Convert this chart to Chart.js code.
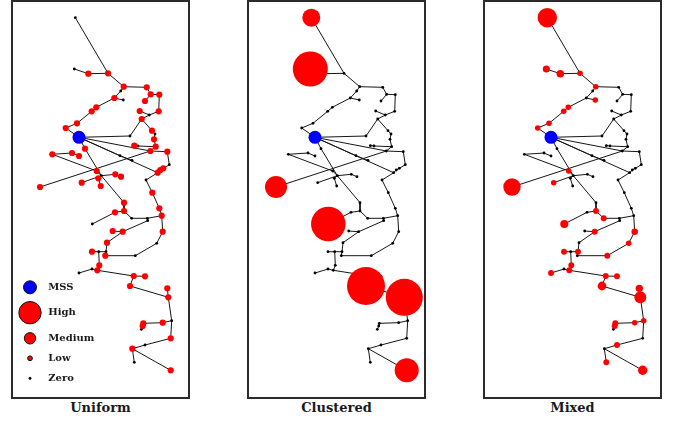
<!DOCTYPE html>
<html>
<head>
<meta charset="utf-8">
<script src="https://cdn.jsdelivr.net/npm/chart.js@4.4.1/dist/chart.umd.min.js"></script>
<style>
  html, body { margin: 0; padding: 0; background: #fff; }
  body { width: 673px; height: 422px; position: relative; overflow: hidden; }
  .frame { position: absolute; top: 0; width: 179px; height: 399px; border: 2px solid #2b2b2b; box-sizing: border-box; }
  .frame canvas { position: absolute; left: 0; top: 0; }
  .title { position: absolute; top: 399px; width: 179px; text-align: center;
           font: bold 13px "DejaVu Serif", serif; color: #1a1a1a; line-height: 18px; }
</style>
</head>
<body>
<div class="frame" style="left:11px"><canvas id="c0" width="175" height="395"></canvas></div>
<div class="frame" style="left:247px"><canvas id="c1" width="175" height="395"></canvas></div>
<div class="frame" style="left:483px"><canvas id="c2" width="175" height="395"></canvas></div>
<div class="title" style="left:11px" id="t0"></div>
<div class="title" style="left:247px" id="t1"></div>
<div class="title" style="left:483px" id="t2"></div>
<script>
// Feeder layout: node coordinates (shared by all three scenarios)
const nodeX = [75.3,108,88.3,74.3,123.7,146.7,120.7,114.3,123.3,96.3,
  91.7,77,65.7,79,150.7,159.3,145,158.7,149.3,139.7,
  141.7,130,152,155,154,155.7,134.3,138,150.3,167.3,
  169.3,163.3,160.3,157.7,146,152.3,159.3,161.7,85,52.3,
  72,79,120,132,40,96.7,101.3,115.3,121,98.3,
  81.7,100.7,124,124,115,131.7,147.3,147.7,92.3,162.7,
  122.7,112.7,156.7,107,92,98.7,106,105.3,135.3,99.3,
  97.3,92,79,133.7,145,130,167.3,168.3,171.7,162.7,
  143.3,142.7,141.3,170.7,145,132.3,134.3,170.7];
const nodeY = [17.7,73.3,73.7,69,86.7,87.3,91,98,100,107.3,
  111.3,123.3,128,137.3,94.3,94.7,101,111.3,115,111,
  119,136,130.7,134,139.3,146.7,145.7,146,151,151.7,
  164.7,168.3,170,172.7,180,192.7,208.3,215.7,148.7,154.3,
  153,156,155.7,160.3,187,171,175.7,174.3,176.7,178.3,
  182.7,186,202.7,211,212.3,218.3,218.3,220.7,224,231.7,
  231.7,231,243.3,242.7,251.7,251.7,251.7,255.7,255.7,265.3,
  270.3,269,273,276,276.3,286,288.3,297.3,320.7,322.7,
  323.3,326,329.3,338.3,345,348.7,362.3,370.3];
const mssIndex = 13;

// Lines (from node, to node)
const edgesFrom = [0,3,2,1,4,4,6,7,7,9,10,11,12,
  5,14,14,15,17,19,18,13,21,20,22,23,24,26,27,
  25,28,13,44,29,30,31,32,13,33,34,35,36,
  13,42,
  13,38,46,39,45,39,40,46,47,46,46,49,
  52,53,54,53,55,56,56,37,59,62,68,67,66,63,60,60,
  64,65,65,69,70,71,70,73,73,75,77,77,78,79,80,81,78,83,84,85,85];
const edgesTo = [1,2,1,4,5,6,7,8,9,10,11,12,13,
  14,15,16,17,18,18,20,21,20,22,23,24,25,27,25,
  28,29,28,28,30,31,32,33,33,34,35,36,37,
  42,43,
  38,46,52,45,46,40,41,47,48,50,49,51,
  53,54,58,55,56,57,37,59,62,68,67,66,63,60,57,61,
  65,66,69,70,71,72,73,74,75,77,76,78,79,80,81,82,83,84,85,86,87];

// Load per node for each scenario (0 = no load)
const loadUniform = [0,1,1,0,1,1,0,1,0,1,
  1,1,1,0,1,1,1,1,0,1,
  1,0,1,0,1,1,1,0,1,1,
  0,1,1,1,0,1,1,1,1,1,
  1,1,0,0,1,1,0,1,1,1,
  1,1,1,1,1,0,0,0,0,1,
  1,1,0,1,1,0,0,1,0,1,
  1,0,0,1,1,1,1,1,0,1,
  1,1,0,1,0,1,0,1];
const loadClustered = [8.4,0,0,31.9,0,0,0,0,0,0,
  0,0,0,0,0,0,0,0,0,0,
  0,0,0,0,0,0,0,0,0,0,
  0,0,0,0,0,0,0,0,0,0,
  0,0,0,0,12.6,0,0,0,0,0,
  0,0,0,0,0,0,0,0,31.1,0,
  0,0,0,0,0,0,0,0,0,0,
  0,0,0,0,0,37.6,0,35.6,0,0,
  0,0,0,0,0,0,0,15];
const loadMixed = [9.8,0.8,1.5,1.3,0.8,0,0,0,0.8,0.8,
  0.8,0.8,0.8,0,0,0,0,0,0,0,
  0,0,0,0,0,0,0,0,0,0,
  0,0,0,0,0,0,0,0,0,0,
  0,0,0,0,7.9,0.8,0,0,0,0,
  0.8,0,0,0.9,0,0.9,0,0,1.7,1.1,
  0.9,0,0.8,0,0.9,0,0.9,0,0.9,0.9,
  0.9,0,0.9,0.9,0.9,2.0,1.4,3.7,0.8,0.8,
  0.9,0.9,0,0,0.9,0,0.9,2.3];

const panelTitles = ["Uniform", "Clustered", "Mixed"];
const legendLabels = ["MSS", "High", "Medium", "Low", "Zero"];

function radiusOf(load) { return load > 0 ? 3.1 * Math.sqrt(load) : 1.4; }

const legendPlugin = {
  id: 'sizeLegend',
  afterDatasetsDraw(chart) {
    const ctx = chart.ctx;
    const items = [
      { r: 6.5, fill: '#0000ff', y: 285.3 },
      { r: 11.2, fill: '#ff0000', y: 310.7 },
      { r: 5.7, fill: '#ff0000', y: 336.3 },
      { r: 2.4, fill: '#ff0000', y: 356.3 },
      { r: 1.1, fill: '#000000', y: 376.3 }
    ];
    ctx.save();
    items.forEach((it, i) => {
      ctx.beginPath();
      ctx.arc(17, it.y, it.r, 0, Math.PI * 2);
      ctx.fillStyle = it.fill;
      ctx.fill();
      ctx.lineWidth = 1;
      ctx.strokeStyle = '#111';
      ctx.stroke();
      ctx.fillStyle = '#1a1a1a';
      ctx.font = 'bold 10px "DejaVu Serif", serif';
      ctx.textBaseline = 'middle';
      ctx.fillText(legendLabels[i], 35.3, it.y);
    });
    ctx.restore();
  }
};

function makeChart(id, load, withLegend) {
  const edgePts = [];
  edgesFrom.forEach((a, i) => {
    const b = edgesTo[i];
    edgePts.push({ x: nodeX[a], y: nodeY[a] }, { x: nodeX[b], y: nodeY[b] }, { x: nodeX[b], y: null });
  });
  const loadPts = [], loadR = [], zeroPts = [];
  nodeX.forEach((x, i) => {
    if (i === mssIndex) return;
    if (load[i] > 0) { loadPts.push({ x: x, y: nodeY[i] }); loadR.push(radiusOf(load[i])); }
    else zeroPts.push({ x: x, y: nodeY[i] });
  });
  return new Chart(document.getElementById(id), {
    type: 'scatter',
    data: {
      datasets: [
        { label: 'MSS', data: [{ x: nodeX[mssIndex], y: nodeY[mssIndex] }], pointRadius: 6.5,
          backgroundColor: '#0000ff', borderWidth: 0, clip: false },
        { label: 'Load', data: loadPts, pointRadius: loadR, backgroundColor: '#ff0000', borderWidth: 0, clip: false },
        { label: 'Zero', data: zeroPts, pointRadius: 1.4, backgroundColor: '#000000', borderWidth: 0, clip: false },
        { label: 'Lines', data: edgePts, showLine: true, spanGaps: false, borderColor: '#151515',
          borderWidth: 1, pointRadius: 0, backgroundColor: 'transparent', clip: false }
      ]
    },
    options: {
      responsive: false,
      animation: false,
      events: [],
      layout: { padding: 0, autoPadding: false },
      plugins: { legend: { display: false }, tooltip: { enabled: false } },
      scales: {
        x: { type: 'linear', min: 13, max: 188, display: false },
        y: { type: 'linear', min: 2, max: 397, reverse: true, display: false }
      }
    },
    plugins: withLegend ? [legendPlugin] : []
  });
}

makeChart('c0', loadUniform, true);
makeChart('c1', loadClustered, false);
makeChart('c2', loadMixed, false);
panelTitles.forEach((t, i) => { document.getElementById('t' + i).textContent = t; });
</script>
</body>
</html>
